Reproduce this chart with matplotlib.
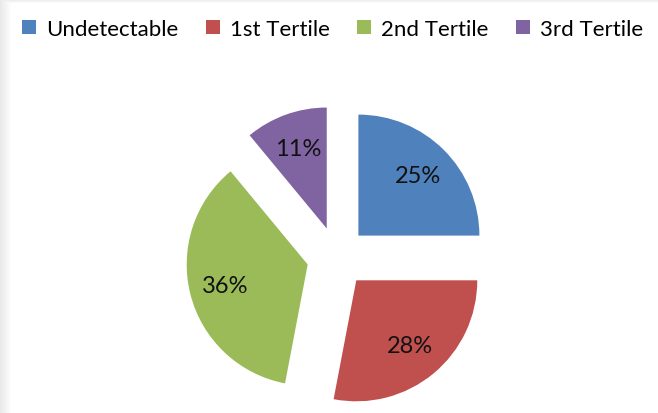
import numpy as np
import matplotlib.pyplot as plt

categories = ['Undetectable', '1st Tertile', '2nd Tertile', '3rd Tertile']
shares = [25, 28, 36, 11]
colors = ['#4F81BD', '#C0504D', '#9BBB59', '#8064A2']

W, H = 658, 414
fig = plt.figure(figsize=(W / 100, H / 100), dpi=100)
plt.rcParams['font.family'] = ['Lato', 'DejaVu Sans']

# soft shadow along the left and top edges
bg = fig.add_axes([0, 0, 1, 1])
xs = np.arange(W)[None, :]
ys = np.arange(H)[:, None]
shade = np.minimum(np.clip(xs / 11.0, 0, 1), np.clip(ys / 4.0, 0, 1))
shade = 0.91 + 0.09 * shade
bg.imshow(shade, cmap='gray', vmin=0, vmax=1, aspect='auto', extent=[0, W, H, 0])
bg.axis('off')

# pie axes, 1 data unit = pie radius in pixels
r_px = 121
cx, cy = 337, 258
ax = fig.add_axes([0, 0, 1, 1])
ax.patch.set_alpha(0)
wedges, texts, autotexts = ax.pie(
    shares, colors=colors, startangle=90, counterclock=False,
    explode=[0.25] * len(shares), radius=1, autopct='%1.0f%%',
    pctdistance=0.7, wedgeprops=dict(linewidth=0),
    textprops=dict(fontsize=17, color='#111111'))
ax.set_xlim(-cx / r_px, (W - cx) / r_px)
ax.set_ylim(-(H - cy) / r_px, cy / r_px)
ax.set_aspect('equal')
ax.axis('off')

fig.legend(wedges, categories, loc='center left',
           bbox_to_anchor=(22 / W, 1 - 30 / H), ncol=4, frameon=False,
           fontsize=16, handlelength=0.62, handleheight=0.62,
           handletextpad=0.45, columnspacing=1.25, borderaxespad=0,
           borderpad=0)

fig.savefig('out.png', dpi=100)
